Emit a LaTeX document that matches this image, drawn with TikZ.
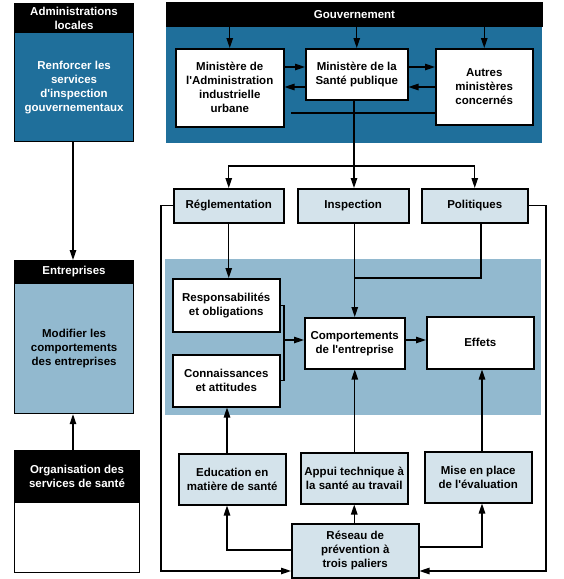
\documentclass[tikz,border=0pt]{standalone}
\usepackage{fontspec}
\setmainfont{Liberation Sans}
\usetikzlibrary{arrows.meta}
\definecolor{darkblue}{RGB}{31,111,155}
\definecolor{midblue}{RGB}{146,185,207}
\definecolor{paleblue}{RGB}{212,227,235}
\newcommand\boxat[7]{\node[#6, anchor=north west, minimum width={(#4-#2)*1pt}, minimum height={(#5-#3)*1pt}] (#1) at (#2,#3) {#7};}
\newcommand\apo{\textquotesingle}
\begin{document}
\begin{tikzpicture}[x=1pt,y=-1pt,
  every node/.style={inner sep=0pt, align=center, font=\fontsize{11.5}{14}\selectfont\bfseries},
  hdr/.style={fill=black, text=white, draw=black, line width=1pt},
  darkbody/.style={fill=darkblue, text=white, draw=black, line width=1.2pt},
  midbody/.style={fill=midblue, draw=black, line width=1.2pt},
  whitebox/.style={fill=white, draw=black, line width=1.5pt},
  palebox/.style={fill=paleblue, draw=black, line width=1.5pt},
  area/.style={draw=none},
  wire/.style={line width=1.2pt, draw=black},
  arr/.style={wire, -{Triangle[length=10pt,width=6.5pt]}}]
\useasboundingbox (0,0) rectangle (564,579);
% left column
\boxat{adminH}{14}{3}{133}{32}{hdr}{Administrations\\locales}
\boxat{adminB}{14}{32}{133}{141}{darkbody}{Renforcer les\\services\\d\apo inspection\\gouvernementaux}
\boxat{entH}{14}{260}{133}{283}{hdr}{Entreprises}
\boxat{entB}{14}{283}{133}{413}{midbody, text=black}{Modifier les\\comportements\\des entreprises}
\boxat{orgH}{14}{450}{139}{502}{hdr}{Organisation des\\services de santé}
\boxat{orgB}{14}{502}{139}{572}{whitebox, line width=1.2pt}{}
% government area
\boxat{govbg}{166}{26}{542}{143}{area, fill=darkblue}{}
\boxat{gov}{166}{2}{542}{26}{hdr}{Gouvernement}
\boxat{minadm}{175}{48}{283}{126}{whitebox}{Ministère de\\l\apo Administration\\industrielle\\urbane}
\boxat{minsan}{305}{48}{407}{99}{whitebox}{Ministère de la\\Santé publique}
\boxat{autres}{435}{48}{532}{124}{whitebox}{Autres\\ministères\\concernés}
% second row
\boxat{regl}{173}{188}{283}{222}{palebox}{Réglementation}
\boxat{insp}{297}{188}{408}{222}{palebox}{Inspection}
\boxat{pol}{421}{188}{527}{222}{palebox}{Politiques}
% light blue area
\boxat{region}{165}{259}{541}{415}{area, fill=midblue}{}
\boxat{resp}{172}{278}{279}{331}{whitebox}{Responsabilités\\et obligations}
\boxat{conn}{172}{354}{279}{406}{whitebox}{Connaissances\\et attitudes}
\boxat{comp}{304}{317}{404}{368}{whitebox}{Comportements\\de l\apo entreprise}
\boxat{eff}{426}{316}{533}{368}{whitebox}{Effets}
% bottom
\boxat{edu}{178}{453}{285}{504}{palebox}{Education en\\matière de santé}
\boxat{appui}{300}{452}{407}{503}{palebox}{Appui technique à\\la santé au travail}
\boxat{mise}{424}{451}{531}{502}{palebox}{Mise en place\\de l\apo évaluation}
\boxat{reseau}{291}{523}{418}{577}{palebox}{Réseau de\\prévention à\\trois paliers}
% helper coordinates
\coordinate (ya) at (0,67);
\coordinate (yb) at (0,87);
\coordinate (yc) at (0,113);
\coordinate (lineStart) at (291,113);
\coordinate (split) at (354,166);
\coordinate (yd) at (0,166);
\coordinate (leftX) at (161,0);
\coordinate (rightX) at (546,0);
\coordinate (ybot) at (0,571);
\coordinate (polX) at (481,0);
\coordinate (ye) at (0,278);
\coordinate (brX) at (284,0);
\coordinate (yf) at (0,340);
\coordinate (eduX) at (227,0);
\coordinate (miseX) at (482,0);
\coordinate (yg) at (0,550);
\coordinate (yh) at (0,547);
\coordinate (colX) at (73,0);
% left column connectors
\draw[arr] (adminB.south -| colX) -- (entH.north -| colX);
\draw[arr] (orgH.north -| colX) -- (entB.south -| colX);
% government connectors
\draw[arr] (minadm.north |- gov.south) -- (minadm.north);
\draw[arr] (minsan.north |- gov.south) -- (minsan.north);
\draw[arr] (autres.north |- gov.south) -- (autres.north);
\draw[arr] (minadm.east |- ya) -- (minsan.west |- ya);
\draw[arr] (minsan.west |- yb) -- (minadm.east |- yb);
\draw[arr] (minsan.east |- ya) -- (autres.west |- ya);
\draw[arr] (autres.west |- yb) -- (minsan.east |- yb);
\draw[wire] (lineStart) -- (autres.west |- yc);
\draw[wire] (minsan.south -| split) -- (split);
\draw[arr] (split) -- (regl.north |- yd) -- (regl.north);
\draw[arr] (split) -- (split |- insp.north);
\draw[arr] (split) -- (pol.north |- yd) -- (pol.north);
% loops to reseau
\draw[arr] (regl.west) -- (regl.west -| leftX) -- (leftX |- ybot) -- (reseau.west |- ybot);
\draw[arr] (pol.east) -- (pol.east -| rightX) -- (rightX |- ybot) -- (reseau.east |- ybot);
% into the light area
\draw[arr] (regl.south) -- (regl.south |- resp.north);
\draw[arr] (comp.north |- insp.south) -- (comp.north);
\draw[wire] (pol.south -| polX) -- (polX |- ye) -- (comp.north |- ye);
\draw[wire] (resp.east) -- (resp.east -| brX) -- (brX |- conn.east) -- (conn.east);
\draw[arr] (brX |- yf) -- (comp.west |- yf);
\draw[arr] (comp.east |- yf) -- (eff.west |- yf);
% bottom connectors
\draw[arr] (edu.north -| eduX) -- (conn.south -| eduX);
\draw[arr] (appui.north -| comp.south) -- (comp.south);
\draw[arr] (mise.north -| miseX) -- (eff.south -| miseX);
\draw[arr] (reseau.north -| appui.south) -- (appui.south);
\draw[arr] (reseau.west |- yg) -- (eduX |- yg) -- (edu.south -| eduX);
\draw[arr] (reseau.east |- yh) -- (miseX |- yh) -- (mise.south -| miseX);
\end{tikzpicture}
\end{document}
